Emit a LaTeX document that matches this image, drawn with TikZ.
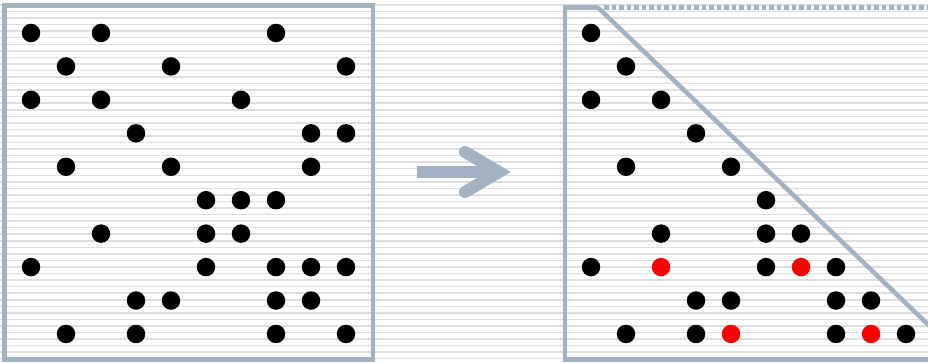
\documentclass[tikz,border=0pt]{standalone}
\usetikzlibrary{calc}
\definecolor{frame}{HTML}{A3B2C2}
\definecolor{stripe}{HTML}{DEDEDE}
\begin{document}
\begin{tikzpicture}[x=1pt,y=-1pt,
  dot/.style={circle,fill=black,inner sep=0pt,minimum size=18.5pt},
  reddot/.style={circle,fill=red,inner sep=0pt,minimum size=18.5pt},
  framel/.style={draw=frame,line width=4.5pt},
  arrowl/.style={draw=frame,line width=12pt}]
\useasboundingbox (0,0) rectangle (928,363);
\fill[white] (0,0) rectangle (928,363);
% stripes
\foreach \k in {0,...,55} {
  \draw[stripe,line width=1.5pt] (0,{5+6.55*\k}) -- (928,{5+6.55*\k});
}
% left frame
\draw[framel] (4.5,5.5) rectangle (373,359.5);
% left dots (symmetric matrix)
\foreach \r/\cols in {1/{1,3,8},2/{2,5,10},3/{1,3,7},4/{4,9,10},5/{2,5,9},6/{6,7,8},7/{3,6,7},8/{1,6,8,9,10},9/{4,5,8,9},10/{2,4,8,10}} {
  \foreach \c in \cols {
    \node[dot] (L-\r-\c) at ({31+35*(\c-1)},{33+33.44*(\r-1)}) {};
  }
}
% arrow
\coordinate (as) at (417,172);
\coordinate (ae) at (497,172);
\coordinate (au) at (465,152);
\coordinate (av) at (499,172);
\coordinate (ad) at (465,192);
\draw[arrowl] (as) -- (ae);
\draw[arrowl,line cap=round,line join=miter] (au) -- (av) -- (ad);
% right frame
\coordinate (rtl) at (565,7.5);
\coordinate (rdg) at (598,7.5);
\coordinate (rbl) at (565,359.5);
\coordinate (rbr) at (928,359.5);
\coordinate (rde) at (940,336);
\draw[framel] (rdg) -- (rtl) -- (rbl) -- (rbr);
\draw[framel] (rdg) -- (rde);
\draw[draw=frame,line width=4.5pt,dash pattern=on 4.5pt off 3pt] (604,7.5) -- (928,7.5);
% right dots (lower triangle with fill)
\foreach \r/\cols in {1/{1},2/{2},3/{1,3},4/{4},5/{2,5},6/{6},7/{3,6,7},8/{1,6,8},9/{4,5,8,9},10/{2,4,8,10}} {
  \foreach \c in \cols {
    \node[dot] (R-\r-\c) at ({591+35*(\c-1)},{33+33.44*(\r-1)}) {};
  }
}
\foreach \r/\c in {8/3,8/7,10/5,10/9} {
  \node[reddot] (F-\r-\c) at ({591+35*(\c-1)},{33+33.44*(\r-1)}) {};
}
\end{tikzpicture}
\end{document}
